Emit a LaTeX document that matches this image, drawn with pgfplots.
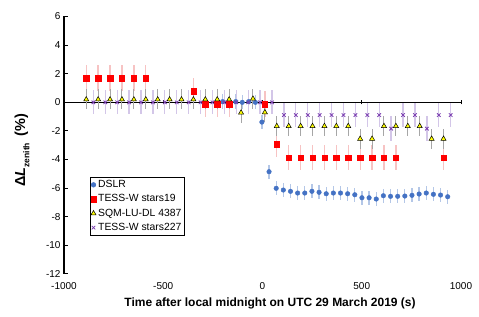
\documentclass[border=0pt]{standalone}
\usepackage{fontspec}
\setmainfont{Liberation Sans}
\usepackage{pgfplots}
\pgfplotsset{compat=1.18}
\definecolor{dslr}{HTML}{4472C4}
\definecolor{dslrerr}{HTML}{B4C7E7}
\definecolor{tessred}{HTML}{FF0000}
\definecolor{tesserr}{HTML}{F7C3C3}
\definecolor{sqmfill}{HTML}{FFFF00}
\definecolor{sqmerr}{HTML}{A6A6A6}
\definecolor{purp}{HTML}{7A3DB0}
\definecolor{purperr}{HTML}{D3C6E8}
\begin{document}
\begin{tikzpicture}
\begin{axis}[
  scale only axis, width=397pt, height=257.5pt,
  xmin=-1000, xmax=1000, ymin=-12, ymax=6,
  axis y line*=left, axis x line*=middle,
  hide obscured x ticks=false, hide obscured y ticks=false,
  xtick={-1000,-500,0,500,1000}, ytick={-12,-10,...,6},
  xtick align=center, ytick align=inside,
  major tick length=4pt,
  axis line style={line width=1.5pt, black},
  tick style={line width=1pt, black},
  tick label style={font=\fontsize{10}{12}\selectfont},
  /pgf/number format/assume math mode=true,
  /pgf/number format/1000 sep={},
  xticklabel style={yshift=-174.5pt},
  clip=false,
  legend style={at={(rel axis cs:0.0655,0.378)}, anchor=north west,
    draw=black, line width=0.6pt, font=\fontsize{10.4}{12}\selectfont,
    inner xsep=0.5pt, inner ysep=1.5pt, row sep=1.5pt, cells={anchor=west}},
  legend image code/.code={\draw[mark repeat=2,mark phase=2,#1] plot coordinates {(0cm,0cm)(0.1cm,0cm)(0.2cm,0cm)};},
  error bars/y dir=both,
  error bars/error mark=none,
]
% DSLR
\addplot[only marks, mark=*, mark size=2.3pt, color=dslr,
  error bars/y fixed=0.5,
  error bars/error bar style={dslrerr, line width=1.3pt}]
  coordinates {
  (-201,0.05) (-168,0.0) (-135,0.05) (-102,0.0) (-69,0.05) (-36,0.0) (-3,-1.38)
  (33,-4.85) (69,-6.01) (105,-6.13) (141,-6.22) (177,-6.34) (213,-6.34)
  (249,-6.22) (285,-6.29) (321,-6.39) (357,-6.34) (393,-6.34) (429,-6.39)
  (465,-6.46) (501,-6.67) (537,-6.67) (573,-6.76) (609,-6.53) (645,-6.57)
  (681,-6.57) (717,-6.55) (753,-6.50) (789,-6.41) (825,-6.34) (861,-6.43)
  (897,-6.48) (933,-6.60)
  };
\addlegendentry{DSLR}
% TESS-W stars19
\addplot[only marks, mark=square*, mark size=2.7pt, color=tessred,
  error bars/y fixed=0.9,
  error bars/error bar style={tesserr, line width=1.3pt}]
  coordinates {
  (-888,1.7) (-828,1.7) (-768,1.7) (-708,1.7) (-648,1.7) (-588,1.7)
  (-348,0.78) (-288,-0.14) (-228,-0.14) (-168,-0.14) (12,-0.14)
  (72,-2.93) (132,-3.85) (192,-3.85) (252,-3.85) (312,-3.85) (372,-3.85)
  (432,-3.85) (492,-3.85) (552,-3.85) (612,-3.85) (672,-3.85) (912,-3.85)
  };
\addlegendentry{TESS-W stars19}
% SQM-LU-DL 4387
\addplot[only marks, mark=triangle*, mark size=2.9pt, color=black,
  mark options={fill=sqmfill, draw=black, line width=0.5pt},
  error bars/y fixed=0.7,
  error bars/error bar style={sqmerr, line width=1pt}]
  coordinates {
  (-888,0.2) (-828,0.2) (-768,0.2) (-708,0.2) (-648,0.2) (-588,0.2)
  (-528,0.2) (-468,0.2) (-408,0.2) (-348,0.2) (-288,0.2) (-228,0.2)
  (-168,0.2) (-108,-0.72) (-48,0.25) (12,-0.7) (72,-1.66) (132,-1.66)
  (192,-1.66) (252,-1.66) (312,-1.66) (372,-1.66) (432,-1.66) (492,-2.55)
  (552,-2.55) (612,-1.66) (672,-1.66) (732,-1.66) (792,-1.66) (852,-2.55)
  (912,-2.55)
  };
\addlegendentry{SQM-LU-DL 4387}
% TESS-W stars227
\addplot[only marks, mark=x, mark size=2.5pt, color=purp,
  mark options={line width=0.8pt},
  error bars/y fixed=0.85,
  error bars/error bar style={purperr, line width=1.3pt}]
  coordinates {
  (-852,0) (-792,0) (-732,0) (-672,0) (-612,0) (-552,0) (-492,0) (-432,0)
  (-372,0) (-312,0) (-252,0) (-192,0) (-132,0) (-72,0) (-12,0) (48,0)
  (108,-0.89) (168,-0.89) (228,-0.89) (288,-0.89) (348,-0.89) (408,-0.89)
  (468,-0.89) (528,-0.89) (588,-0.89) (648,-1.84) (708,-0.89) (768,-0.89)
  (828,-1.84) (888,-0.89) (948,-0.89)
  };
\addlegendentry{TESS-W stars227}
\node[xshift=-42pt, rotate=90, anchor=center, font=\fontsize{14.5}{16}\selectfont\bfseries]
  at (rel axis cs:0,0.48) {Δ\textit{L}\raisebox{-0.3em}{\fontsize{8.5}{9}\selectfont zenith}\, (\%)};
\node[anchor=center, font=\fontsize{12}{14}\selectfont\bfseries]
  at (rel axis cs:0.519,0) [yshift=-29.3pt] {Time after local midnight on UTC 29 March 2019 (s)};
\path (rel axis cs:0,1) ++(-64pt,16.5pt) coordinate (bbnw);
\path (rel axis cs:1,0) ++(18pt,-43pt) coordinate (bbse);
\end{axis}
\useasboundingbox (bbnw) rectangle (bbse);
\end{tikzpicture}
\end{document}
